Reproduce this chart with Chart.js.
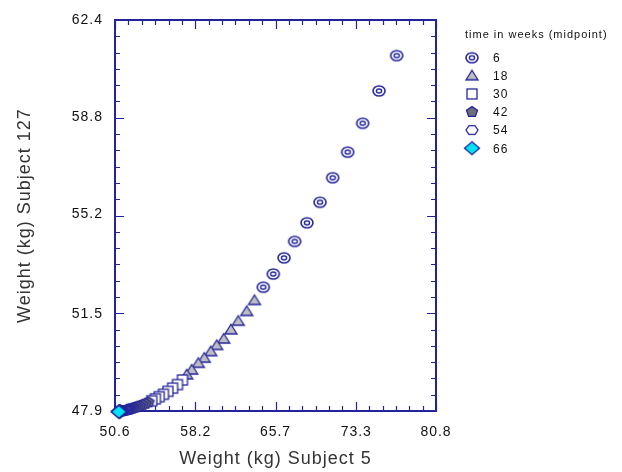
<!DOCTYPE html>
<html>
<head>
<meta charset="utf-8">
<title>Weight Subject 5 vs Subject 127</title>
<script src="https://cdn.jsdelivr.net/npm/chart.js@4.4.1/dist/chart.umd.min.js"></script>
<style>
    html, body { margin: 0; padding: 0; background: #fff; }
    #wrap { width: 622px; height: 472px; position: relative; }
</style>
</head>
<body>
<div id="wrap"><canvas id="weightChart"></canvas></div>
<script>
// time in weeks (midpoint) - one group per legend entry
const weekGroups = ['6', '18', '30', '42', '54', '66'];

// Weight (kg) Subject 5 (x) and Subject 127 (y)
const subj5Wk6   = [77.10, 75.44, 73.90, 72.49, 71.08, 69.89, 68.66, 67.50, 66.50, 65.49, 64.55];
const subj127Wk6 = [61.08, 59.77, 58.57, 57.50, 56.55, 55.64, 54.88, 54.19, 53.58, 52.98, 52.49];

const subj5Wk18   = [63.72, 62.99, 62.20, 61.51, 60.83, 60.17, 59.61, 59.00, 58.44, 57.82, 57.35];
const subj127Wk18 = [52.00, 51.59, 51.23, 50.91, 50.57, 50.33, 50.10, 49.86, 49.67, 49.42, 49.24];

const subj5Wk30   = [56.95, 56.48, 56.02, 55.58, 55.16, 54.76, 54.40, 54.06];
const subj127Wk30 = [49.05, 48.88, 48.75, 48.63, 48.52, 48.43, 48.35, 48.28];

const subj5Wk42   = [53.75, 53.45, 53.18, 52.93, 52.71, 52.51, 52.33, 52.17, 52.03, 51.91, 51.80, 51.70];
const subj127Wk42 = [48.22, 48.17, 48.13, 48.09, 48.06, 48.03, 48.01, 47.99, 47.97, 47.96, 47.95, 47.94];

const subj5Wk54   = [51.62, 51.55, 51.49, 51.43, 51.38, 51.33, 51.29, 51.25, 51.21, 51.18, 51.15, 51.12];
const subj127Wk54 = [47.93, 47.93, 47.92, 47.92, 47.91, 47.91, 47.90, 47.90, 47.90, 47.89, 47.89, 47.89];

const subj5Wk66   = [51.08, 51.05, 51.02, 51.00, 50.98, 50.96];
const subj127Wk66 = [47.89, 47.88, 47.88, 47.88, 47.88, 47.87];

// axis tick labels
const xTicks = [50.6, 58.2, 65.7, 73.3, 80.8];
const yTicks = [47.9, 51.5, 55.2, 58.8, 62.4];

const NAVY = '#24249a';
const FONT = "'Liberation Sans', Arial, sans-serif";

// Marker images (ring, triangle, square, pentagon, hexagon, diamond)
function makeMarker(kind) {
    const c = document.createElement('canvas');
    c.width = 18;
    c.height = 16;
    const g = c.getContext('2d');
    const cx = 9, cy = 8;
    g.strokeStyle = NAVY;
    g.lineWidth = 1.3;

    function poly(n, rx, ry, start) {
        g.beginPath();
        for (let k = 0; k < n; k++) {
            const a = start + k * 2 * Math.PI / n;
            const px = cx + rx * Math.cos(a);
            const py = cy + ry * Math.sin(a);
            if (k === 0) g.moveTo(px, py); else g.lineTo(px, py);
        }
        g.closePath();
    }

    if (kind === 'ring') {
        g.lineWidth = 1.6;
        g.fillStyle = '#fff';
        g.beginPath();
        g.ellipse(cx, cy, 6, 5, 0, 0, 2 * Math.PI);
        g.fill();
        g.stroke();
        g.lineWidth = 1.4;
        g.beginPath();
        g.ellipse(cx, cy, 2.6, 2, 0, 0, 2 * Math.PI);
        g.stroke();
    } else if (kind === 'triangle') {
        g.beginPath();
        g.moveTo(cx, cy - 5.5);
        g.lineTo(cx + 6, cy + 4);
        g.lineTo(cx - 6, cy + 4);
        g.closePath();
        g.fillStyle = '#bdbdc2';
        g.fill();
        g.stroke();
    } else if (kind === 'square') {
        g.fillStyle = '#fff';
        g.fillRect(cx - 5, cy - 5, 10, 10);
        g.strokeRect(cx - 5, cy - 5, 10, 10);
    } else if (kind === 'pentagon') {
        poly(5, 5.8, 5.4, -Math.PI / 2);
        g.fillStyle = '#6e6e76';
        g.fill();
        g.stroke();
    } else if (kind === 'hexagon') {
        poly(6, 6, 5, 0);
        g.fillStyle = '#fff';
        g.fill();
        g.stroke();
    } else if (kind === 'diamond') {
        g.beginPath();
        g.moveTo(cx, cy - 6.5);
        g.lineTo(cx + 7.5, cy);
        g.lineTo(cx, cy + 6.5);
        g.lineTo(cx - 7.5, cy);
        g.closePath();
        g.fillStyle = '#00e4f6';
        g.fill();
        g.stroke();
    }
    return c;
}

const markers = ['ring', 'triangle', 'square', 'pentagon', 'hexagon', 'diamond'].map(makeMarker);
const xSeries = [subj5Wk6, subj5Wk18, subj5Wk30, subj5Wk42, subj5Wk54, subj5Wk66];
const ySeries = [subj127Wk6, subj127Wk18, subj127Wk30, subj127Wk42, subj127Wk54, subj127Wk66];

// wider letter spacing, like the original renderer
const spacingPlugin = {
    id: 'spacing',
    beforeUpdate(chart) { chart.ctx.letterSpacing = '1px'; },
    beforeDraw(chart) { chart.ctx.letterSpacing = '1px'; }
};

// box with inward major/minor ticks on all four sides
const framePlugin = {
    id: 'frame',
    beforeDatasetsDraw(chart) {
        const {ctx, chartArea: a, scales: {x, y}} = chart;
        ctx.save();
        ctx.strokeStyle = NAVY;
        ctx.lineWidth = 1.2;
        ctx.beginPath();
        const nx = (xTicks.length - 1) * 6;
        for (let i = 0; i <= nx; i++) {
            const v = x.min + i * (x.max - x.min) / nx;
            const px = Math.round(x.getPixelForValue(v)) + 0.5;
            const len = i % 6 === 0 ? 9 : 5;
            ctx.moveTo(px, a.top); ctx.lineTo(px, a.top + len);
            ctx.moveTo(px, a.bottom); ctx.lineTo(px, a.bottom - len);
        }
        const ny = (yTicks.length - 1) * 6;
        for (let i = 0; i <= ny; i++) {
            const v = y.min + i * (y.max - y.min) / ny;
            const py = Math.round(y.getPixelForValue(v)) + 0.5;
            const len = i % 6 === 0 ? 9 : 5;
            ctx.moveTo(a.left, py); ctx.lineTo(a.left + len, py);
            ctx.moveTo(a.right, py); ctx.lineTo(a.right - len, py);
        }
        ctx.stroke();
        ctx.lineWidth = 2;
        ctx.strokeRect(a.left, a.top, a.right - a.left, a.bottom - a.top);
        ctx.restore();
    }
};

// legend on the right with the title
const legendPlugin = {
    id: 'sideLegend',
    afterDraw(chart) {
        const {ctx, chartArea: a} = chart;
        ctx.save();
        ctx.fillStyle = '#111';
        ctx.textBaseline = 'middle';
        ctx.font = '11px ' + FONT;
        ctx.fillText('time in weeks (midpoint)', a.right + 29, 35);
        ctx.font = '12px ' + FONT;
        chart.data.datasets.forEach(function(ds, i) {
            const rowY = 57.7 + i * 18.1;
            const img = ds.pointStyle;
            ctx.drawImage(img, a.right + 36 - img.width / 2, rowY - img.height / 2);
            ctx.fillText(ds.label, a.right + 57, rowY + 1);
        });
        ctx.restore();
    }
};

const ctx = document.getElementById('weightChart').getContext('2d');
const chart = new Chart(ctx, {
    type: 'scatter',
    data: {
        datasets: weekGroups.map(function(label, i) {
            return {
                label: label,
                data: xSeries[i].map(function(v, j) { return {x: v, y: ySeries[i][j]}; }),
                pointStyle: markers[i],
                pointRadius: 6,
                order: weekGroups.length - i,
                clip: false
            };
        })
    },
    options: {
        responsive: true,
        maintainAspectRatio: false,
        animation: false,
        layout: {
            padding: {left: 0, top: 20, right: 186, bottom: 0}
        },
        plugins: {
            legend: {display: false},
            tooltip: {enabled: false}
        },
        scales: {
            x: {
                type: 'linear',
                min: 50.6,
                max: 80.8,
                afterBuildTicks: function(scale) {
                    scale.ticks = xTicks.map(function(v) { return {value: v}; });
                },
                afterFit: function(scale) { scale.height = 61; },
                grid: {display: false},
                border: {display: false},
                ticks: {
                    padding: 5,
                    maxRotation: 0,
                    autoSkip: false,
                    color: '#111',
                    font: {family: FONT, size: 14},
                    callback: function(value) { return value.toFixed(1); }
                },
                title: {
                    display: true,
                    text: 'Weight (kg) Subject 5',
                    color: '#333',
                    font: {family: FONT, size: 18},
                    padding: {top: 0, bottom: 2}
                }
            },
            y: {
                type: 'linear',
                min: 47.9,
                max: 62.4,
                afterBuildTicks: function(scale) {
                    scale.ticks = yTicks.map(function(v) { return {value: v}; });
                },
                afterFit: function(scale) { scale.width = 115; },
                grid: {display: false},
                border: {display: false},
                ticks: {
                    padding: 4,
                    autoSkip: false,
                    color: '#111',
                    font: {family: FONT, size: 14},
                    callback: function(value) { return value.toFixed(1); }
                },
                title: {
                    display: true,
                    text: 'Weight (kg) Subject 127',
                    color: '#333',
                    font: {family: FONT, size: 18},
                    padding: {top: 14, bottom: 0}
                }
            }
        }
    },
    plugins: [spacingPlugin, framePlugin, legendPlugin]
});
</script>
</body>
</html>
